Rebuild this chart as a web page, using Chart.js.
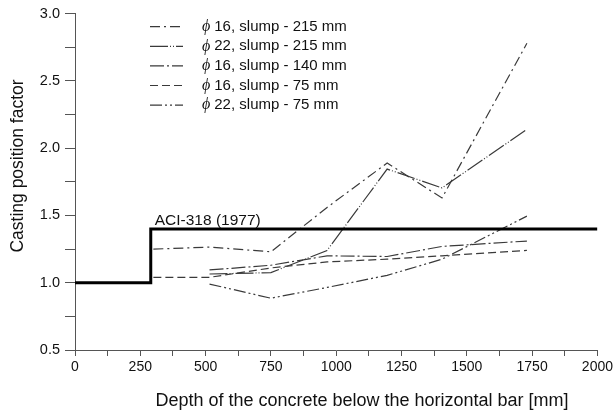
<!DOCTYPE html>
<html>
<head>
<meta charset="utf-8">
<script src="https://cdn.jsdelivr.net/npm/chart.js@4.4.1/dist/chart.umd.min.js"></script>
<style>
html, body { margin: 0; padding: 0; background: #fff; }
</style>
</head>
<body>
<canvas id="chart" width="616" height="415"></canvas>
<script>
// depth of concrete below the bar [mm]
const depthLong = [300, 515, 750, 965, 1195, 1405, 1730];
const depthShort = [515, 750, 965, 1195, 1405, 1730];

// casting position factor per test series
const phi16Slump215 = [1.25, 1.265, 1.23, 1.56, 1.89, 1.63, 2.78];
const phi22Slump215 = [1.065, 1.075, 1.24, 1.845, 1.705, 2.14];
const phi16Slump140 = [1.095, 1.13, 1.2, 1.195, 1.27, 1.31];
const phi16Slump75 = [1.04, 1.04, 1.11, 1.155, 1.175, 1.2, 1.24];
const phi22Slump75 = [0.99, 0.885, 0.965, 1.055, 1.175, 1.495];

// ACI-318 (1977) step
const aciDepth = [0, 290, 290, 2000];
const aciFactor = [1.0, 1.0, 1.4, 1.4];

const legendPhi = ['16', '22', '16', '16', '22'];
const legendText = [', slump - 215 mm', ', slump - 215 mm', ', slump - 140 mm', ', slump - 75 mm', ', slump - 75 mm'];

const lineColor = '#3a3a3a';
const regular = '"Liberation Sans", Arial, sans-serif';

function pts(xs, ys) {
    return xs.map((x, i) => ({ x: x, y: ys[i] }));
}

const seriesStyles = [
    { data: pts(depthLong, phi16Slump215), dash: [10, 4, 2, 4] },
    { data: pts(depthShort, phi22Slump215), dash: [18, 2, 1, 2, 1, 2] },
    { data: pts(depthShort, phi16Slump140), dash: [14, 3, 2, 3] },
    { data: pts(depthLong, phi16Slump75), dash: [8, 4] },
    { data: pts(depthShort, phi22Slump75), dash: [12, 3, 2, 3, 2, 3] }
];

const datasets = [{
    label: 'ACI-318 (1977)',
    data: pts(aciDepth, aciFactor),
    borderColor: '#000',
    borderWidth: 3,
    pointRadius: 0,
    showLine: true,
    fill: false
}];
seriesStyles.forEach((s, i) => {
    datasets.push({
        label: legendPhi[i] + legendText[i],
        data: s.data,
        borderColor: lineColor,
        borderWidth: 1.2,
        borderDash: s.dash,
        pointRadius: 0,
        showLine: true,
        fill: false
    });
});

// legend, ACI label and axis titles drawn like the original figure
const overlay = {
    id: 'overlay',
    afterDatasetsDraw(chart) {
        const ctx = chart.ctx;
        const area = chart.chartArea;
        const xs = chart.scales.x;
        const ys = chart.scales.y;
        ctx.save();

        // ACI label
        ctx.fillStyle = '#111';
        ctx.font = '15.5px ' + regular;
        ctx.textBaseline = 'alphabetic';
        ctx.textAlign = 'left';
        ctx.fillText('ACI-318 (1977)', xs.getPixelForValue(aciDepth[1]) + 4, ys.getPixelForValue(aciFactor[2]) - 4);

        // legend
        for (let i = 0; i < seriesStyles.length; i++) {
            const y = area.top + 13 + i * 19.6;
            ctx.strokeStyle = lineColor;
            ctx.lineWidth = 1.2;
            ctx.setLineDash(seriesStyles[i].dash);
            ctx.beginPath();
            ctx.moveTo(area.left + 75, y);
            ctx.lineTo(area.left + 108, y);
            ctx.stroke();
            ctx.setLineDash([]);
            ctx.textBaseline = 'middle';
            ctx.font = 'italic 16px "Liberation Serif", serif';
            ctx.fillText('\u03D5', area.left + 127, y);
            const w = ctx.measureText('\u03D5 ').width;
            ctx.font = '15px ' + regular;
            ctx.fillText(legendPhi[i] + legendText[i], area.left + 127 + w, y);
        }

        // x axis title
        ctx.textAlign = 'center';
        ctx.textBaseline = 'middle';
        ctx.font = '18px ' + regular;
        ctx.fillText('Depth of the concrete below the horizontal bar [mm]', 362, 401);

        // y axis title
        ctx.translate(18, 166);
        ctx.rotate(-Math.PI / 2);
        ctx.font = '17.5px ' + regular;
        ctx.fillText('Casting position factor', 0, 0);
        ctx.restore();
    }
};

new Chart(document.getElementById('chart').getContext('2d'), {
    type: 'scatter',
    data: { datasets: datasets },
    options: {
        responsive: false,
        animation: false,
        layout: { padding: { left: 0, right: 18, top: 12, bottom: 0 } },
        plugins: {
            legend: { display: false },
            tooltip: { enabled: false }
        },
        scales: {
            x: {
                type: 'linear',
                min: 0,
                max: 2000,
                afterFit: s => { s.height = 65; },
                ticks: {
                    stepSize: 125,
                    autoSkip: false,
                    maxRotation: 0,
                    color: '#111',
                    padding: 3,
                    font: { family: regular, size: 14 },
                    callback: v => (v % 250 === 0 ? String(v) : '')
                },
                grid: {
                    drawOnChartArea: false,
                    tickLength: 6,
                    color: '#555'
                },
                border: { color: '#555', width: 1 }
            },
            y: {
                min: 0.5,
                max: 3.0,
                afterFit: s => { s.width = 75; },
                ticks: {
                    stepSize: 0.25,
                    autoSkip: false,
                    color: '#111',
                    padding: 5,
                    font: { family: regular, size: 14.5 },
                    callback: v => (Math.abs(v * 2 - Math.round(v * 2)) < 1e-6 ? v.toFixed(1) : '')
                },
                grid: {
                    drawOnChartArea: false,
                    tickLength: 10,
                    color: '#555'
                },
                border: { color: '#555', width: 1 }
            }
        }
    },
    plugins: [overlay]
});
</script>
</body>
</html>
